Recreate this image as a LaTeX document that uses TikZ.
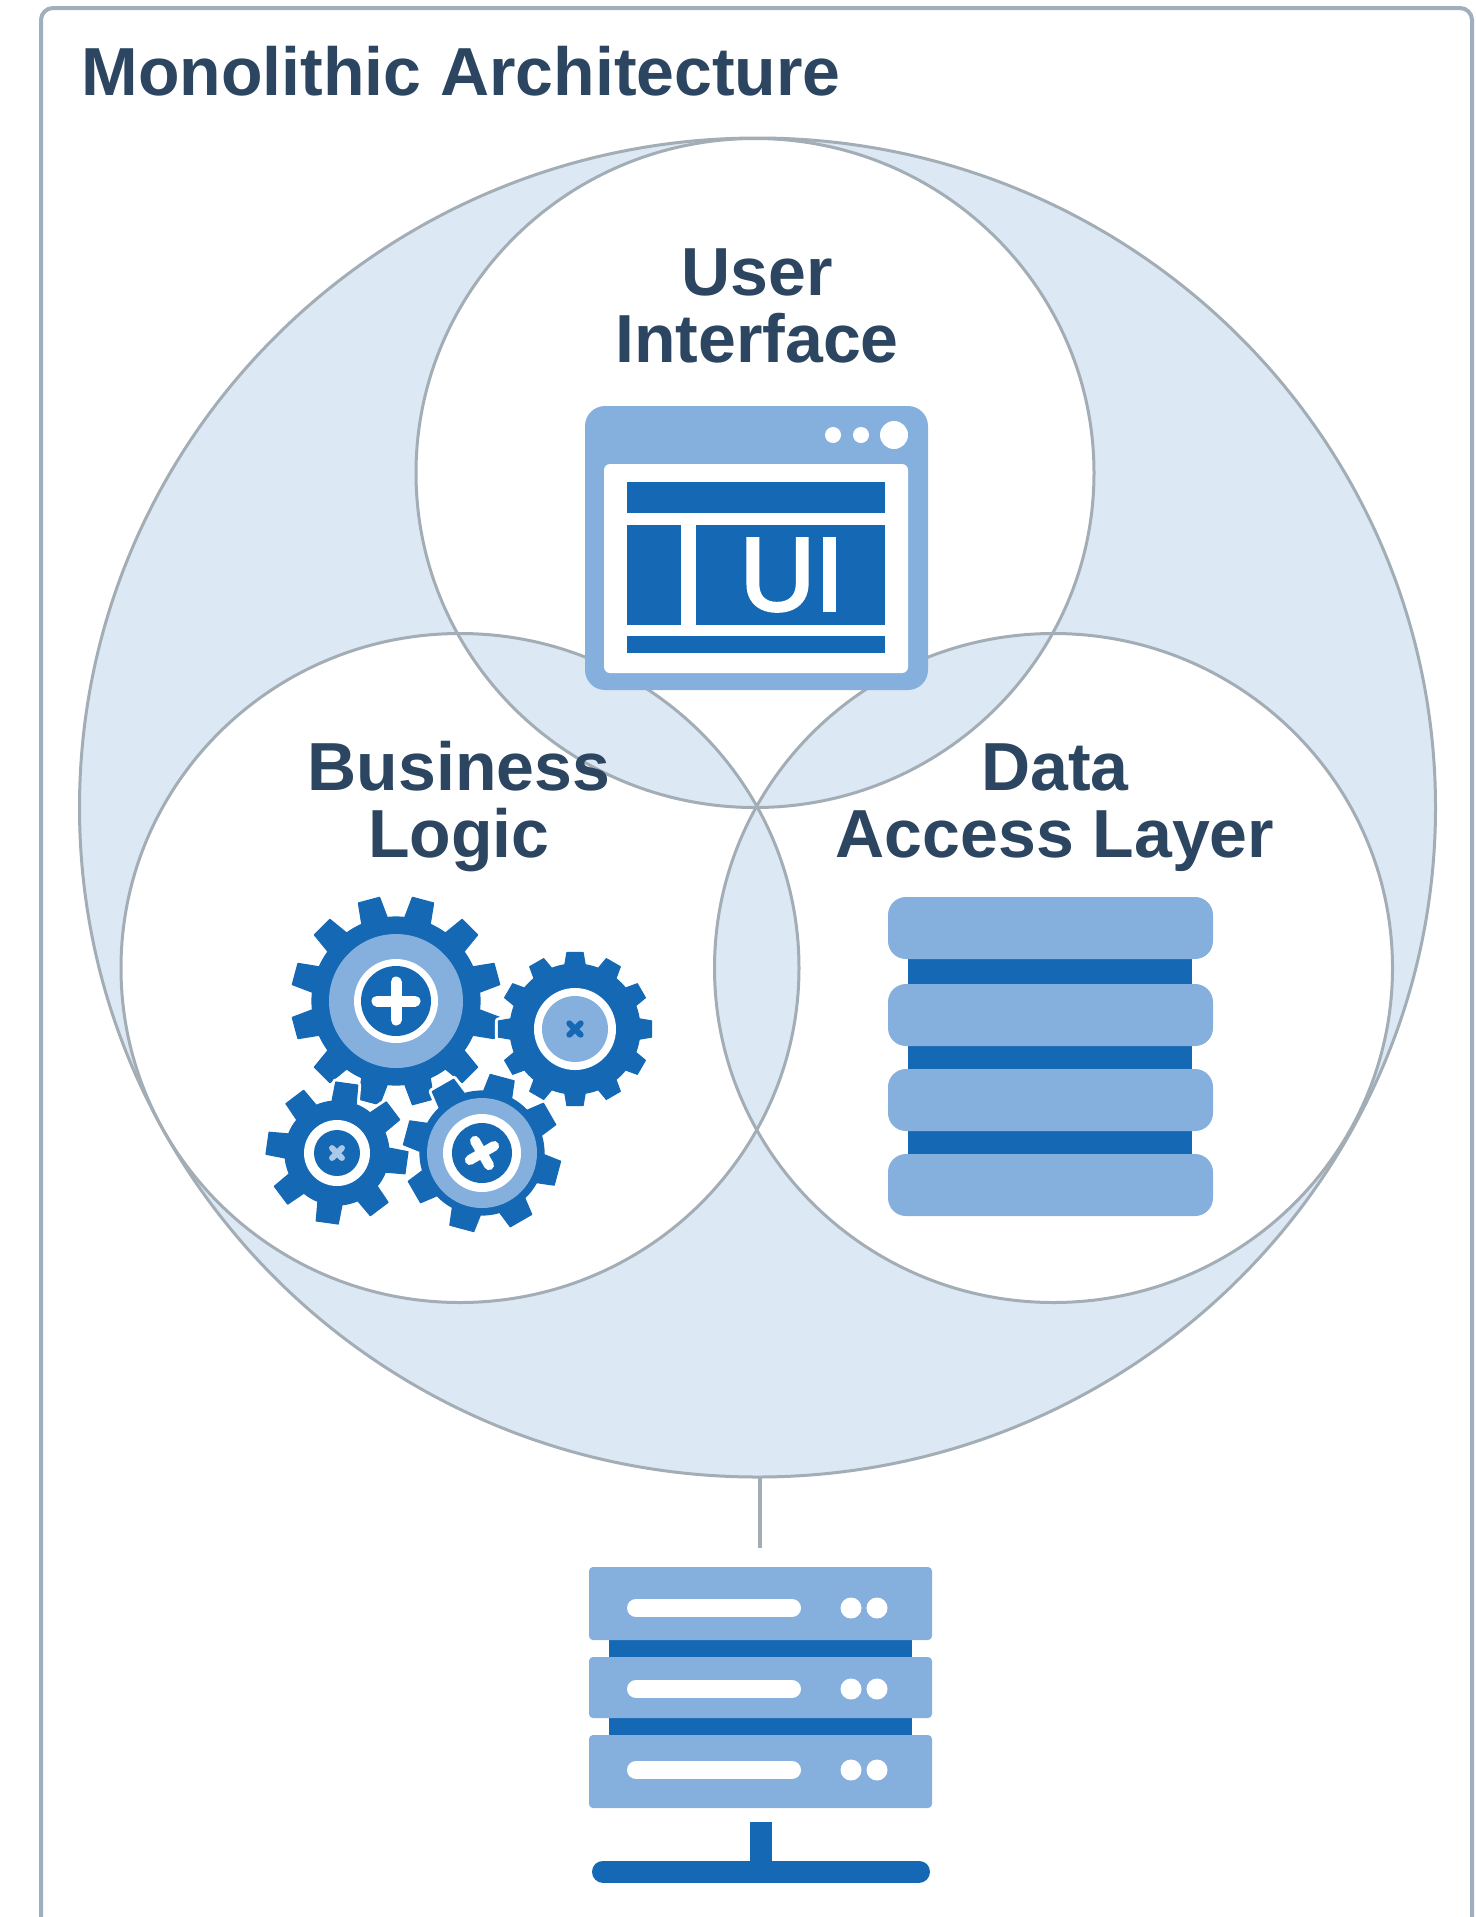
\documentclass[tikz,border=0pt]{standalone}
\usetikzlibrary{shapes.geometric}
\usepackage{fontspec}
\setmainfont{Liberation Sans}
\newfontfamily\uiglyphfont[FakeBold=3]{Liberation Sans}
\definecolor{lightfill}{HTML}{DCE9F5}
\definecolor{ringline}{HTML}{A3ADB5}
\definecolor{frameline}{HTML}{9FAFBD}
\definecolor{labeltext}{HTML}{2C4560}
\definecolor{iconlight}{HTML}{85B0DE}
\definecolor{icondark}{HTML}{1468B4}
\tikzset{
  bigring/.style={ellipse,draw=ringline,line width=1.5pt,inner sep=0pt,outer sep=0pt,minimum width=1356*0.5pt,minimum height=1339*0.5pt},
  ring/.style={ellipse,draw=ringline,line width=1.5pt,inner sep=0pt,outer sep=0pt,minimum width=678*0.5pt,minimum height=669*0.5pt},
  label/.style={text=labeltext,font=\fontsize{34}{33.5}\selectfont\bfseries,align=center,inner sep=0pt,anchor=base},
  light/.style={fill=iconlight},
  dark/.style={fill=icondark},
  hole/.style={fill=white},
}
% centre x, centre y, teeth, offset, outer r, root r
\newcommand{\gearshape}[6]{%
  \begin{scope}[shift={(#1,#2)},y=0.5pt]
    \pgfmathsetmacro{\stepang}{360/#3}
    \pgfmathsetmacro{\rootw}{\stepang*0.30}
    \pgfmathsetmacro{\tipw}{\stepang*0.20}
    \fill[icondark,draw=icondark,line width=0.6pt,line join=round,
          preaction={draw=white,line width=3.5pt,line join=round}]
      (#4-\rootw:#6)
      \foreach \k in {1,...,#3}{
        -- ({#4+(\k-1)*\stepang-\rootw}:#6)
        -- ({#4+(\k-1)*\stepang-\tipw}:#5)
        -- ({#4+(\k-1)*\stepang+\tipw}:#5)
        -- ({#4+(\k-1)*\stepang+\rootw}:#6)
        arc[start angle={#4+(\k-1)*\stepang+\rootw},end angle={#4+\k*\stepang-\rootw},radius=#6]
      } -- cycle;
  \end{scope}}
% centre x, centre y, rotation, arm, width, colour
\newcommand{\crossmark}[6]{%
  \begin{scope}[shift={(#1,#2)},rotate=#3]
    \draw[#6,line cap=round,line width=#5] (-#4,0) -- (#4,0) (0,-#4) -- (0,#4);
  \end{scope}}
\begin{document}
\begin{tikzpicture}[x=0.5pt,y=-0.5pt]
\useasboundingbox (0,0) rectangle (1476,1917);
\clip (0,0) rectangle (1476,1917);
\fill[white] (0,0) rectangle (1476,1917);
\draw[frameline,line width=2pt,rounded corners=6pt] (41,8) rectangle (1472,1960);

% filled regions
\fill[lightfill,even odd rule]
  (757.5,807.5) circle[x radius=678,y radius=669.5]
  (755,473) circle[x radius=339,y radius=334.5]
  (460,968) circle[x radius=339,y radius=334.5]
  (1053.5,968) circle[x radius=339,y radius=334.5];

% outlines
\node[bigring] (whole) at (757.5,807.5) {};
\node[ring] (ui) at (755,473) {};
\node[ring] (logic) at (460,968) {};
\node[ring] (data) at (1053.5,968) {};

% title and labels
\node[text=labeltext,font=\fontsize{34}{36}\selectfont\bfseries,inner sep=0pt,anchor=base west] (title) at (81,95) {Monolithic Architecture};
\node[label] (uitext) at (757,362) {User\\Interface};
\node[label] (logictext) at (459,857) {Business\\Logic};
\node[label] (datatext) at (1055,857) {Data\\Access Layer};

% connector
\coordinate (servertop) at (760,1548);
\draw[ringline,line width=2.2pt] (whole.south -| servertop) -- (servertop);

% UI window icon
\fill[light,rounded corners=10pt] (585,406) rectangle (928,690);
\fill[hole,rounded corners=3pt] (604,464) rectangle (908,673);
\fill[dark] (627,482) rectangle (885,513);
\fill[dark] (627,525) rectangle (681,625);
\fill[dark] (696,525) rectangle (885,625);
\fill[dark] (627,636) rectangle (885,653);
\fill[hole] (833,435) circle[radius=8] (861,435) circle[radius=8] (894,435) circle[radius=14];
\node[text=white,font=\uiglyphfont\fontsize{52}{52}\selectfont,inner sep=0pt] (uiglyph) at (792,575) {UI};

% database icon
\fill[dark] (908,950) rectangle (1192,1165);
\foreach \ya/\yb in {897/959,984/1046,1069/1131,1154/1216}{
  \fill[light,rounded corners=9pt] (888,\ya) rectangle (1213,\yb);
}

% gears
\gearshape{396}{1001}{12}{15}{105}{84}
\fill[light] (396,1001) circle[radius=67];
\fill[hole] (396,1001) circle[radius=42];
\fill[dark] (396,1001) circle[radius=35];
\crossmark{396}{1001}{0}{19}{5.5pt}{white}

\gearshape{575}{1029}{12}{0}{77}{65}
\fill[hole] (575,1029) circle[radius=41];
\fill[light] (575,1029) circle[radius=33];
\crossmark{575}{1029}{45}{8}{3pt}{icondark}

\gearshape{337}{1153}{8}{-8}{71}{52}
\fill[hole] (337,1153) circle[radius=33];
\fill[dark] (337,1153) circle[radius=23];
\crossmark{337}{1153}{45}{7}{3pt}{iconlight!70!white}

\gearshape{482}{1153}{8}{30}{79}{62}
\fill[light] (482,1153) circle[radius=55];
\fill[hole] (482,1153) circle[radius=39];
\fill[dark] (482,1153) circle[radius=30];
\crossmark{482}{1153}{30}{14}{5pt}{white}

% server icon
\fill[dark] (609,1635) rectangle (912,1740);
\foreach \ya/\yb in {1567/1640,1657/1718,1735/1808}{
  \fill[light,rounded corners=2pt] (589,\ya) rectangle (932,\yb);
}
\foreach \yc in {1608,1689,1770}{
  \draw[white,line cap=round,line width=9pt] (636,\yc) -- (792,\yc);
  \fill[hole] (851,\yc) circle[radius=10.5] (877,\yc) circle[radius=10.5];
}
\fill[dark] (750,1822) rectangle (772,1870);
\draw[icondark,line cap=round,line width=11pt] (603,1871.5) -- (919,1871.5);
\end{tikzpicture}
\end{document}
